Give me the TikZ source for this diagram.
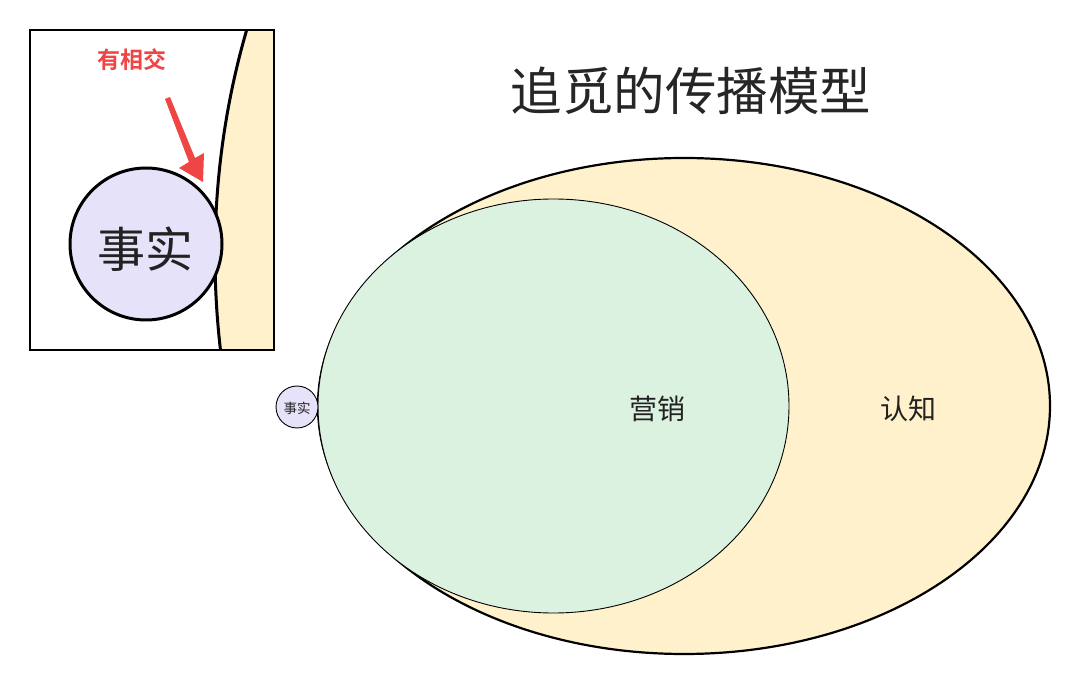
\documentclass[tikz,border=0pt]{standalone}
\usepackage{fontspec}
\setmainfont{Noto Sans CJK SC}
\newfontfamily\cjkbold{Noto Sans CJK SC Bold}
\usetikzlibrary{shapes.geometric}
\definecolor{beige}{HTML}{FFF1CC}
\definecolor{mint}{HTML}{DCF2E0}
\definecolor{lav}{HTML}{E5E2F9}
\definecolor{redarrow}{HTML}{F04545}
\definecolor{txt}{HTML}{222222}
\tikzset{
  labeltext/.style={text=txt, inner sep=0pt},
  bigell/.style={ellipse, draw=black, fill=beige, inner sep=0pt},
  midell/.style={ellipse, draw=black, fill=mint, inner sep=0pt},
  factcircle/.style={circle, draw=black, fill=lav, inner sep=0pt},
}
\begin{document}
\begin{tikzpicture}[x=1pt,y=-1pt]
\useasboundingbox (0,0) rectangle (1080,684);
\fill[white] (0,0) rectangle (1080,684);
% title
\node[labeltext, font=\fontsize{51.5}{56}\selectfont, text=black!85] (title) at (691,91) {追觅的传播模型};
% main diagram
\node[bigell, line width=2.2pt, minimum width=732pt, minimum height=496pt] (cog) at (684,406) {};
\node[midell, line width=0.9pt, minimum width=471pt, minimum height=414pt] (mkt) at (553.5,406) {};
\node[factcircle, line width=0.9pt, minimum size=42pt] (fact) at (297,407) {};
\node[labeltext, font=\fontsize{13.5}{15}\selectfont] (factlbl) at (297,408) {事实};
\node[labeltext, font=\fontsize{28}{32}\selectfont] (mktlbl) at (657.5,409) {营销};
\node[labeltext, font=\fontsize{28}{32}\selectfont] (coglbl) at (908.5,409) {认知};
% inset
\coordinate (insetA) at (30,30);
\coordinate (insetB) at (274,350);
\fill[white] (insetA) rectangle (insetB);
\begin{scope}
  \clip (insetA) rectangle (insetB);
  \draw[fill=beige, line width=3pt] (815,255) ellipse [x radius=600, y radius=700];
\end{scope}
\node[factcircle, line width=3pt, minimum size=152pt] (bigfact) at (146,244) {};
\node[labeltext, font=\fontsize{48}{52}\selectfont] (bigfactlbl) at (145,249) {事实};
\draw[line width=2pt] (insetA) rectangle (insetB);
% red arrow
\node[text=redarrow, inner sep=0pt, font=\cjkbold\fontsize{23}{26}\selectfont] (note) at (132,60) {有相交};
\coordinate (arrtip) at (203,182);
\fill[redarrow] (165,99) -- (170,97) -- (195,158) -- (204,153) -- (arrtip) -- (179,168) -- (189,162) -- cycle;
\end{tikzpicture}
\end{document}
